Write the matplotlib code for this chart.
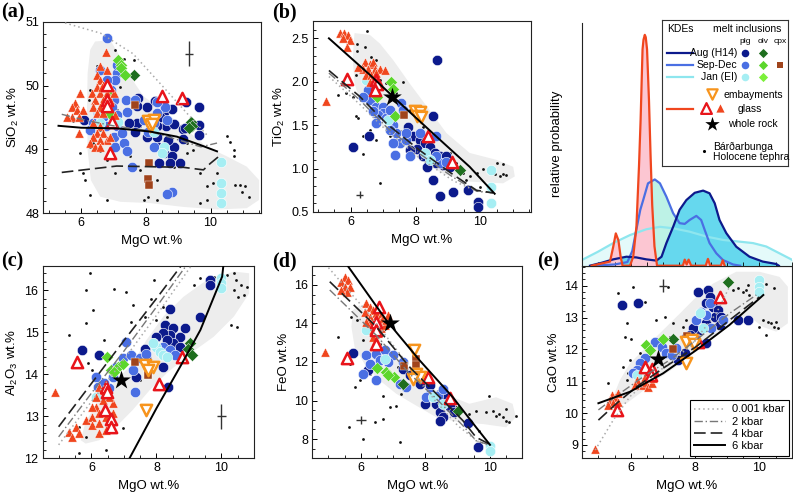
import matplotlib
matplotlib.use('Agg')
import matplotlib.pyplot as plt
from matplotlib.ticker import MultipleLocator, FormatStrFormatter, NullFormatter
from matplotlib.lines import Line2D

plt.rcParams['font.family'] = ['Liberation Sans', 'DejaVu Sans']
plt.rcParams['mathtext.fontset'] = 'custom'
plt.rcParams['mathtext.rm'] = 'Liberation Sans'
plt.rcParams['mathtext.it'] = 'Liberation Sans:italic'
plt.rcParams['mathtext.bf'] = 'Liberation Sans:bold'

# ---------------- DATA ----------------
# Panel (a) SiO2 vs MgO
A_FIELD = [(6.43,50.69),(6.90,50.71),(7.15,50.50),(7.52,50.14),(7.93,49.83),(8.65,49.57),(9.27,49.30),(9.89,49.04),(10.51,48.89),(11.12,48.73),(11.50,48.52),(11.50,48.21),(11.12,48.08),(10.20,48.06),(9.16,48.10),(8.13,48.16),(7.21,48.18),(6.59,48.26),(6.30,48.52),(6.20,48.99),(6.18,49.62),(6.20,50.19),(6.28,50.56)]
A_TEPHRA = [(6.85,50.69),(7.05,50.56),(7.31,50.41),(6.48,50.30),(6.28,49.93),(6.23,49.77),(6.59,49.88),(6.38,49.70),(6.69,49.83),(6.90,49.62),(7.10,49.62),(7.21,49.54),(5.97,48.94),(6.28,49.04),(6.38,49.10),(6.59,48.97),(6.79,48.84),(7.05,48.63),(7.82,48.68),(7.93,48.21),(8.08,48.26),(8.34,48.52),(8.86,48.73),(9.27,49.10),(9.68,48.63),(9.89,48.42),(10.09,48.47),(10.20,48.63),(10.30,48.76),(10.51,49.21),(10.61,49.12),(10.71,48.99),(10.71,48.89),(10.76,48.44),(10.92,48.44),(10.97,48.34),(11.07,48.42),(11.18,48.26),(9.68,48.16),(9.89,48.21),(6.28,48.29),(5.87,49.62),(5.76,49.44),(6.12,48.52),(6.59,49.15),(7.41,49.04),(7.52,48.89),(8.24,49.36),(8.65,49.12),(9.27,48.94),(9.47,48.99),(8.34,48.21),(7.21,49.98),(7.62,50.40),(7.82,49.36),(6.59,49.30),(6.07,48.63),(6.79,48.21)]
A_AUG = [(6.09,49.46),(7.75,49.81),(7.72,49.68),(8.27,49.76),(8.55,49.59),(8.81,49.64),(9.23,49.74),(9.64,49.67),(9.64,49.39),(9.64,49.23),(8.61,49.36),(8.86,49.40),(9.14,49.32),(9.14,49.17),(8.65,49.10),(8.86,49.04),(8.55,48.94),(8.80,48.89),(9.06,48.78),(8.75,48.78),(8.42,48.79),(8.70,49.15),(7.74,49.41),(7.67,49.28),(8.03,49.20),(8.34,49.20),(8.34,49.36),(8.44,49.51),(8.03,49.67),(8.15,49.36),(7.49,49.41),(8.39,49.04),(9.20,49.33)]
A_SEP = [(6.79,50.74),(6.57,50.24),(7.10,50.19),(7.05,50.09),(7.10,50.32),(6.79,50.09),(6.93,49.93),(7.39,49.77),(7.66,49.77),(7.00,49.77),(6.96,49.67),(7.12,49.54),(7.10,49.43),(7.41,49.59),(6.69,49.51),(6.77,49.36),(7.00,49.20),(7.05,49.04),(7.31,49.10),(7.41,48.97),(7.12,49.36),(7.26,49.25),(6.38,49.41),(6.28,49.30),(6.51,49.57),(7.57,48.72),(8.26,49.04),(8.34,49.57),(8.65,49.46),(8.60,49.67),(8.34,49.75),(8.80,48.34),(8.65,48.31),(7.93,49.46),(8.08,49.28),(8.24,49.41)]
A_JAN = [(6.54,49.59),(6.59,49.41),(7.15,49.43),(8.24,49.28),(8.55,49.04),(8.49,48.94),(10.32,48.81),(10.32,48.48),(10.32,48.32),(10.32,48.16)]
A_OLV_AUG = [(7.64,50.17),(9.39,49.43),(9.42,49.36),(9.32,49.33)]
A_OLV_SEP = [(7.13,50.40),(7.23,50.32),(7.23,50.27),(7.36,50.17),(6.85,49.85),(6.85,49.57)]
A_CPX = [(7.67,49.70),(8.10,48.78),(8.07,48.54),(8.10,48.44)]
A_EMB = [(8.06,49.44),(8.24,49.46),(8.13,49.36),(8.19,49.40)]
A_GLASS = [(6.76,50.53),(6.48,50.17),(6.59,50.09),(6.69,50.01),(6.48,49.98),(6.33,49.88),(6.59,49.88),(6.79,49.88),(6.43,49.77),(6.69,49.77),(6.90,49.77),(6.38,49.67),(6.59,49.67),(6.79,49.67),(5.97,49.88),(5.81,49.72),(5.71,49.67),(5.87,49.62),(6.07,49.62),(5.71,49.51),(5.92,49.51),(5.56,49.51),(5.92,49.25),(6.38,49.41),(6.59,49.36),(6.48,49.25),(6.69,49.25),(6.79,49.15),(6.59,49.15),(6.38,49.20),(6.28,49.10),(6.43,49.04),(6.59,49.04),(6.90,49.20),(7.05,49.54),(7.00,49.88),(6.59,50.30),(6.79,50.24),(6.64,49.98),(6.90,49.98),(6.48,49.57),(6.69,49.57)]
A_GLASS_OPEN = [(6.79,50.01),(6.79,49.77),(6.79,49.68),(6.95,49.43),(6.90,48.94),(8.49,49.83),(9.11,49.80)]
A_STAR = []
A_M0 = [(5.5,50.98),(6.6,50.82),(7.6,50.5),(8.5,50.0),(9.3,49.55),(9.9,49.22)]
A_M2 = [(5.4,49.55),(6.2,49.45),(7.0,49.37),(8.0,49.3),(9.0,49.15),(9.7,49.04),(10.2,49.1)]
A_M4 = [(5.4,48.64),(6.07,48.68),(7.1,48.74),(8.13,48.73),(9.16,48.72),(9.78,48.68),(9.99,48.78),(10.35,48.93)]
A_M6 = [(5.3,49.37),(6.0,49.34),(7.1,49.33),(8.13,49.28),(8.96,49.2),(9.68,49.07),(10.2,48.97)]
A_ERR = (9.34, 50.5, 0.12, 0.2)

# Panel (b) TiO2 vs MgO
B_FIELD = [(6.12,2.56),(6.59,2.54),(6.90,2.44),(7.31,2.25),(7.82,1.98),(8.44,1.67),(8.95,1.41),(9.67,1.18),(10.50,1.10),(11.01,1.02),(11.06,0.91),(10.70,0.83),(9.67,0.85),(8.85,0.94),(8.13,1.10),(7.41,1.33),(6.79,1.56),(6.28,1.79),(6.12,1.98),(6.07,2.25),(6.09,2.44)]
B_TEPHRA = [(6.51,2.59),(6.20,2.44),(6.43,2.40),(6.20,2.35),(6.64,2.29),(6.79,2.25),(6.38,2.14),(6.17,2.08),(6.59,2.02),(6.90,2.02),(7.10,1.98),(7.41,1.87),(7.62,2.00),(6.17,1.60),(6.23,1.58),(6.59,1.44),(6.38,1.37),(6.79,1.33),(7.20,1.37),(7.51,1.43),(6.90,0.83),(8.03,1.29),(8.44,1.18),(8.85,1.14),(9.26,1.06),(9.47,0.95),(9.67,0.91),(9.88,0.95),(10.08,1.00),(10.29,1.02),(10.50,1.06),(10.70,1.05),(10.60,0.91),(10.70,0.94),(10.80,0.93),(10.44,0.94),(5.87,1.87),(6.07,1.83),(7.20,1.79),(7.82,1.67),(8.23,1.48),(9.06,1.18),(9.57,0.87),(9.98,0.79),(6.38,1.17),(5.61,1.85)]
B_AUG = [(8.67,2.25),(8.54,1.60),(6.57,1.38),(6.07,1.25),(7.77,1.48),(7.92,1.37),(8.13,1.33),(8.28,1.29),(8.03,1.23),(7.82,1.21),(8.44,1.25),(8.59,1.18),(8.75,1.14),(8.95,1.14),(8.64,1.06),(8.85,1.04),(9.06,1.02),(8.54,0.87),(8.75,0.68),(9.16,0.73),(9.62,0.75),(9.93,0.61),(9.93,0.56),(8.23,1.14),(8.34,1.02)]
B_SEP = [(6.53,1.90),(6.59,1.79),(6.79,1.71),(7.00,1.71),(7.00,1.64),(6.84,1.62),(6.69,1.66),(7.10,1.58),(7.20,1.67),(7.56,1.75),(7.62,1.67),(7.31,1.50),(7.41,1.41),(7.51,1.29),(7.31,1.29),(7.36,1.16),(7.72,1.33),(7.82,1.14),(8.13,1.41),(8.64,1.37),(8.80,1.06),(8.64,1.14),(8.95,1.08),(6.38,1.83),(6.79,1.52),(7.20,1.44),(7.72,1.41)]
B_JAN = [(6.48,2.02),(7.15,1.56),(8.28,1.18),(8.44,1.10),(10.32,0.98),(10.32,0.79),(10.32,0.60)]
B_OLV_AUG = [(9.36,0.98)]
B_OLV_SEP = [(7.23,2.00),(7.31,1.92),(6.81,1.83),(7.36,1.60)]
B_CPX = [(7.65,1.62)]
B_EMB = [(7.98,1.66),(8.13,1.65),(8.06,1.60),(8.18,1.59)]
B_GLASS = [(5.66,2.56),(5.81,2.56),(5.92,2.54),(5.76,2.50),(5.97,2.48),(5.89,2.40),(6.43,2.23),(6.59,2.21),(6.69,2.23),(6.54,2.15),(6.74,2.15),(6.90,2.15),(6.38,2.15),(6.48,2.08),(6.64,2.08),(6.79,2.10),(6.59,2.00),(7.05,2.14),(6.23,2.17),(5.23,1.78)]
B_GLASS_OPEN = [(5.89,2.03),(6.77,2.02),(6.81,1.97),(6.74,1.91),(8.39,1.37),(9.11,1.08)]
B_STAR = [(7.26,1.82)]
B_M0 = [(5.33,2.06),(6.28,1.74),(7.10,1.44),(8.13,1.12),(9.16,0.86),(9.88,0.74),(10.39,0.72)]
B_M2 = [(5.33,2.10),(6.28,1.79),(7.10,1.48),(8.13,1.17),(9.16,0.90),(9.88,0.74),(10.39,0.72)]
B_M4 = [(5.33,2.13),(6.28,1.83),(7.10,1.52),(8.13,1.21),(9.16,0.93),(9.88,0.75),(10.39,0.72)]
B_M6 = [(5.33,2.50),(6.59,2.08),(7.62,1.72),(8.64,1.37),(9.67,1.02),(10.44,0.71)]
B_ERR = (6.28, 0.70, 0.1, 0.04)

# Panel (c) Al2O3 vs MgO
C_FIELD = [(5.67,12.43),(5.82,12.87),(6.24,13.39),(6.76,13.86),(7.27,14.26),(7.69,14.81),(8.21,15.37),(8.83,15.84),(9.55,16.24),(10.38,16.44),(10.85,16.40),(10.85,15.92),(10.38,15.37),(9.76,14.89),(9.04,14.49),(8.31,14.02),(7.79,13.62),(7.27,13.15),(6.76,12.75),(6.24,12.43),(5.82,12.35)]
C_TEPHRA = [(5.95,16.40),(5.84,16.00),(6.05,15.52),(5.31,14.93),(6.70,16.02),(7.07,15.96),(7.92,16.23),(7.84,15.80),(7.27,15.64),(7.64,15.37),(7.22,15.25),(6.39,14.81),(5.88,14.26),(6.03,14.10),(6.13,13.94),(6.76,13.90),(7.27,13.58),(6.96,12.71),(6.45,12.20),(5.62,12.75),(6.24,12.63),(5.82,12.51),(9.35,16.28),(9.55,16.16),(9.76,16.32),(10.18,16.36),(10.38,16.40),(10.44,16.24),(10.59,16.12),(10.38,16.00),(10.80,16.08),(10.69,15.88),(10.51,15.84),(10.28,15.17),(10.49,15.13),(9.14,16.12),(8.21,15.60),(8.31,15.37),(8.52,14.97),(8.78,14.65),(8.00,15.29),(6.55,14.42),(7.48,13.86),(5.82,15.21),(5.62,12.12)]
C_AUG = [(5.72,14.57),(6.24,14.45),(9.64,16.24),(9.64,16.12),(9.33,15.37),(8.41,15.56),(8.26,15.17),(8.52,15.09),(8.41,14.93),(8.73,14.89),(8.88,15.09),(8.21,14.97),(8.00,14.89),(7.90,14.73),(8.52,14.73),(8.31,14.81),(8.73,14.65),(7.66,14.61),(7.69,14.38),(8.21,14.18),(7.38,13.94),(8.36,13.69)]
C_SEP = [(6.13,13.94),(6.19,13.70),(6.65,13.94),(6.76,14.18),(6.96,14.38),(7.22,14.45),(7.27,14.10),(7.33,13.58),(7.05,14.77),(7.48,14.38),(7.69,14.49),(8.00,14.65),(8.21,14.65),(8.41,14.57),(8.57,14.45),(6.55,13.66),(6.36,13.46),(6.40,13.80)]
C_JAN = [(10.0,16.28),(9.97,16.16),(9.97,16.04),(8.00,14.65),(8.10,14.53),(8.21,14.45),(8.31,14.42),(7.90,14.73),(6.13,13.46)]
C_OLV_AUG = [(9.04,14.73),(8.98,14.61),(9.09,14.45)]
C_OLV_SEP = [(6.47,14.40),(6.60,14.10),(6.81,14.18),(6.96,14.24),(6.70,14.05)]
C_CPX = [(7.33,14.30),(7.74,14.06),(7.74,13.98)]
C_EMB = [(7.64,14.22),(7.88,14.18),(7.74,14.10),(7.69,13.15)]
C_GLASS = [(4.89,13.58),(5.31,12.63),(5.51,12.75),(5.62,12.59),(5.41,12.51),(5.82,12.91),(6.03,12.99),(6.13,13.23),(6.24,13.07),(6.03,12.79),(6.24,12.83),(6.45,12.99),(6.65,13.07),(6.65,13.31),(6.55,13.46),(6.34,13.39),(6.13,13.46),(6.45,13.19),(6.03,13.23),(6.24,13.70),(6.39,13.62),(6.24,12.59),(6.45,12.67)]
C_GLASS_OPEN = [(5.56,14.30),(6.45,13.70),(6.47,13.58),(6.42,13.15),(6.60,12.93),(6.60,12.75),(8.78,14.42),(8.08,13.77)]
C_STAR = [(6.91,13.86)]
C_M0 = [(4.99,12.32),(6.0,13.35),(7.0,14.35),(8.0,15.4),(9.09,16.6)]
C_M2 = [(4.99,12.51),(6.0,13.55),(7.0,14.55),(8.0,15.6),(8.93,16.6)]
C_M4 = [(4.99,12.75),(6.0,13.78),(7.0,14.8),(8.0,15.8),(8.78,16.6)]
C_M6 = [(7.17,12.0),(8.0,13.19),(8.73,14.18),(9.35,15.05),(10.02,16.32),(10.06,16.6)]
C_ERR = (10.0, 13.0, 0.14, 0.3)

# Panel (d) FeO vs MgO
D_FIELD = [(5.76,14.70),(5.97,14.96),(6.28,14.17),(6.79,12.78),(7.51,11.39),(8.34,10.52),(9.36,9.83),(10.19,10.17),(10.70,9.83),(10.80,9.13),(10.50,8.61),(9.78,8.78),(9.06,8.87),(8.34,9.13),(7.62,9.83),(7.10,10.35),(6.59,11.04),(6.17,11.74),(5.81,12.78),(5.71,13.83)]
D_TEPHRA = [(5.71,14.35),(5.87,14.17),(6.17,14.52),(5.30,13.30),(5.66,11.91),(5.81,10.70),(5.63,8.61),(6.07,8.00),(6.43,8.87),(6.69,9.04),(7.10,9.74),(7.26,10.35),(6.69,10.26),(6.59,12.96),(7.20,7.83),(7.15,11.74),(7.72,11.04),(8.54,10.17),(8.95,9.65),(9.36,9.30),(9.57,9.48),(9.88,9.39),(9.96,10.21),(10.08,9.48),(10.19,9.22),(10.39,9.13),(10.50,8.96),(10.60,8.87),(10.29,9.30),(10.50,9.57),(10.80,9.22),(9.36,8.96),(9.67,8.43),(6.07,13.13),(6.38,12.43),(6.59,11.74),(6.79,12.35),(6.28,11.39),(5.97,11.04),(6.90,9.65)]
D_AUG = [(5.76,12.47),(6.23,11.57),(7.31,11.65),(7.51,11.30),(7.82,10.87),(8.13,10.78),(8.44,10.35),(8.64,10.17),(8.75,10.00),(8.34,9.83),(7.98,9.83),(8.44,9.39),(8.75,9.65),(8.90,9.39),(8.54,9.13),(8.44,8.96),(9.31,8.82),(9.62,7.60)]
D_SEP = [(6.17,12.35),(6.48,12.43),(6.74,12.61),(7.00,12.35),(6.59,12.09),(6.84,12.00),(6.28,11.91),(6.48,11.04),(6.07,11.39),(7.20,10.87),(7.41,10.70),(8.13,10.35),(8.39,10.26),(8.54,10.61),(8.03,10.17),(7.31,12.00)]
D_JAN = [(6.17,13.65),(6.74,12.17),(8.23,10.17),(8.54,9.83),(10.0,7.65),(10.0,7.39)]
D_OLV_AUG = [(7.31,10.87),(9.00,9.44)]
D_OLV_SEP = [(6.50,11.70),(6.79,11.48),(7.02,11.22),(6.85,11.35)]
D_CPX = [(7.72,12.17),(7.72,11.83),(7.72,11.48),(7.34,11.79)]
D_EMB = [(7.64,12.61),(7.72,11.39),(7.84,11.22),(7.63,11.10)]
D_GLASS = [(5.51,16.43),(5.61,16.26),(5.40,16.17),(5.51,15.91),(5.66,15.91),(5.56,15.65),(5.40,15.74),(6.17,15.04),(6.28,14.87),(6.38,14.70),(6.12,14.61),(6.48,14.52),(6.64,14.43),(6.28,14.35),(6.43,14.17),(6.59,14.09),(6.69,14.26),(6.28,14.00),(6.48,13.83),(6.64,13.74),(6.38,13.65),(6.53,13.48),(6.48,13.13),(6.38,13.30),(6.74,13.91),(6.79,14.17),(6.84,14.43),(6.17,14.09),(4.89,12.52)]
D_GLASS_OPEN = [(6.57,14.87),(6.48,14.09),(6.48,13.65),(6.46,12.96),(5.58,12.23),(8.08,11.22),(8.77,10.14)]
D_STAR = [(6.92,14.00)]
D_M0 = [(5.0,16.9),(6.3,14.4),(7.4,12.0),(8.3,10.0),(9.0,8.7),(9.6,7.9),(9.9,7.7)]
D_M2 = [(5.04,15.74),(6.48,13.39),(7.51,11.39),(8.34,10.09),(9.16,8.70),(9.57,7.91),(9.98,7.70)]
D_M4 = [(5.04,16.17),(6.48,13.83),(7.51,11.74),(8.34,10.35),(9.16,8.96),(9.57,8.09),(9.98,7.74)]
D_M6 = [(5.61,16.96),(6.79,14.17),(7.82,12.09),(8.85,10.17),(9.57,8.61),(10.0,7.70)]
D_ERR = (6.0, 9.0, 0.15, 0.2)

# Panel (e) CaO vs MgO
E_FIELD = [(5.46,10.52),(5.67,11.04),(5.98,11.56),(6.49,12.09),(7.01,12.61),(7.53,13.13),(8.04,13.65),(8.56,14.07),(9.28,14.44),(10.0,14.44),(10.62,14.28),(10.88,13.97),(10.88,12.82),(10.52,12.56),(10.10,12.71),(9.69,13.03),(9.28,13.03),(8.66,12.50),(8.04,11.98),(7.42,11.46),(6.80,11.04),(6.29,10.62),(5.88,10.31),(5.57,10.25)]
E_TEPHRA = [(5.62,13.76),(6.08,13.97),(5.88,12.82),(5.82,12.40),(6.00,12.32),(6.44,13.50),(6.80,12.92),(7.06,13.03),(7.16,13.97),(7.32,12.82),(7.63,12.71),(7.73,12.92),(7.84,12.56),(5.98,11.67),(5.77,11.46),(5.93,11.25),(5.88,11.04),(5.31,10.96),(6.49,12.09),(7.01,11.77),(7.22,12.40),(7.42,12.30),(9.18,13.86),(9.33,13.92),(9.48,13.81),(9.59,13.86),(9.69,13.71),(9.90,13.86),(9.64,14.02),(9.07,14.07),(10.21,14.07),(10.46,13.92),(10.10,12.92),(10.26,12.87),(10.36,12.82),(10.52,12.87),(10.57,12.66),(10.46,12.71),(10.19,12.45),(10.0,12.71),(6.29,11.88)]
E_AUG = [(5.72,13.40),(6.24,13.45),(8.09,13.81),(8.40,13.86),(8.45,13.65),(8.35,13.45),(8.56,13.34),(8.71,13.24),(8.61,13.03),(8.76,12.77),(8.35,12.82),(8.14,12.61),(7.94,12.66),(7.84,12.45),(8.35,12.19),(7.47,11.67),(7.68,11.88),(9.33,12.94),(9.64,12.94),(8.81,13.03)]
E_SEP = [(6.75,12.24),(6.96,12.09),(7.11,11.88),(7.27,11.82),(7.42,12.03),(7.73,12.40),(8.04,12.92),(8.20,13.18),(8.45,13.45),(8.87,12.92),(6.44,11.72),(6.29,11.56),(6.19,11.35),(6.08,11.25),(8.35,13.08),(8.51,12.66)]
E_JAN = [(6.19,11.20),(8.14,13.13),(8.25,12.66),(10.0,14.18),(10.0,13.97),(10.0,13.81)]
E_OLV_AUG = [(7.30,12.33),(9.02,14.12)]
E_OLV_SEP = [(6.49,12.14),(6.60,11.98),(7.01,12.33)]
E_CPX = [(7.30,12.00),(7.75,12.43)]
E_EMB = [(7.73,12.24),(7.89,12.30),(7.96,12.17),(7.73,11.56)]
E_GLASS = [(5.41,10.57),(5.36,10.41),(5.52,10.52),(5.62,10.62),(5.46,10.31),(5.62,10.36),(5.31,10.26),(4.90,8.87),(6.39,10.88),(6.49,10.99),(6.55,10.83),(6.65,10.94),(6.70,11.09),(6.44,11.14),(6.60,11.25),(6.19,11.04),(6.13,10.88)]
E_GLASS_OPEN = [(5.57,10.10),(6.46,11.46),(6.65,11.37),(6.62,11.20),(8.09,12.24),(8.76,13.65)]
E_STAR = [(6.86,11.69)]
E_M0 = [(4.90,8.84),(5.46,9.78),(5.98,10.52),(6.80,11.25),(7.84,12.09),(8.66,13.13),(9.07,13.97)]
E_M2 = [(5.0,10.10),(5.67,10.62),(6.39,11.14),(7.22,11.67),(8.04,12.30),(9.07,13.13),(9.90,13.71)]
E_M4 = [(5.0,9.78),(5.57,10.31),(6.19,10.83),(7.01,11.41),(8.04,12.09),(9.07,12.92),(10.0,13.65)]
E_M6 = [(5.0,10.31),(5.98,10.67),(7.01,11.25),(8.04,11.98),(9.07,12.77),(10.0,13.60),(10.12,13.71)]
E_ERR = (7.0, 14.0, 0.13, 0.2)

# KDE curves (MgO, relative probability)
KDE_GLASS = [(4.79,0.0),(5.36,0.017),(5.46,0.078),(5.54,0.133),(5.62,0.105),(5.69,0.037),(5.75,0.0),(5.98,0.0),(6.08,0.037),(6.18,0.16),(6.26,0.41),(6.31,0.6),(6.37,0.89),(6.40,0.93),(6.44,0.95),(6.47,0.94),(6.51,0.89),(6.57,0.68),(6.62,0.45),(6.67,0.25),(6.74,0.08),(6.82,0.0),(7.62,0.0),(7.68,0.025),(7.74,0.005),(7.80,0.025),(7.88,0.0),(8.33,0.0),(8.40,0.028),(8.47,0.0),(8.80,0.0),(8.86,0.022),(8.92,0.0)]
KDE_SEP = [(4.79,0.0),(5.5,0.005),(5.9,0.015),(6.05,0.06),(6.18,0.15),(6.3,0.23),(6.39,0.27),(6.54,0.339),(6.75,0.355),(6.91,0.339),(7.11,0.284),(7.32,0.216),(7.52,0.175),(7.68,0.172),(7.83,0.188),(8.04,0.205),(8.19,0.188),(8.30,0.147),(8.45,0.093),(8.66,0.051),(8.87,0.023),(9.18,0.005),(9.4,0.0)]
KDE_AUG = [(4.74,0.0),(5.1,0.012),(5.46,0.026),(5.87,0.037),(6.18,0.034),(6.49,0.026),(6.80,0.021),(6.96,0.037),(7.11,0.093),(7.32,0.16),(7.52,0.23),(7.73,0.27),(7.99,0.30),(8.25,0.309),(8.45,0.298),(8.61,0.257),(8.76,0.188),(8.97,0.134),(9.28,0.078),(9.69,0.037),(10.10,0.017),(10.52,0.007),(10.6,0.0)]
KDE_JAN = [(4.48,0.023),(4.98,0.057),(5.46,0.093),(5.98,0.126),(6.49,0.15),(6.91,0.16),(7.32,0.154),(7.83,0.14),(8.35,0.12),(8.87,0.106),(9.38,0.099),(9.80,0.093),(10.21,0.079),(10.62,0.051),(11.03,0.023)]

MODEL_LABELS = ['0.001 kbar', '2 kbar', '4 kbar', '6 kbar']

# ---------------- STYLE ----------------
COL_AUG = '#0c1a8c'
COL_SEP = '#4a6fe3'
COL_JAN = '#a6eef3'
COL_OLV_AUG = '#1e6e1e'
COL_OLV_SEP = '#5cd62c'
COL_OLV_JAN = '#7cf03a'
COL_CPX = '#a0441c'
COL_EMB = '#f7941d'
COL_GLASS = '#f0461e'
COL_GLASS_OPEN = '#e8141a'
COL_FIELD = '#ededed'
MODEL_STYLES = [dict(color='#aaaaaa', ls=(0, (1, 2)), lw=1.1),
                dict(color='#777777', ls=(0, (6, 2, 1, 2)), lw=1.0),
                dict(color='#222222', ls=(0, (7, 3)), lw=1.2),
                dict(color='black', ls='-', lw=1.4)]

W, H = 793, 492
fig = plt.figure(figsize=(W / 100, H / 100), dpi=100)


def rect(l, t, r, b):
    return [l / W, 1 - b / H, (r - l) / W, (b - t) / H]


def xy(pts):
    return [p[0] for p in pts], [p[1] for p in pts]


def draw(ax, field, tephra, aug, sep, jan, olv_aug, olv_sep, cpx, glass, glass_open, emb, star, models, err):
    fx, fy = xy(field)
    ax.fill(fx, fy, color=COL_FIELD, lw=0, zorder=0)
    x, y = xy(tephra)
    ax.scatter(x, y, s=4, color='#111111', lw=0, zorder=1)
    for pts, col in [(aug, COL_AUG), (sep, COL_SEP), (jan, COL_JAN)]:
        if pts:
            x, y = xy(pts)
            ax.scatter(x, y, s=56, color=col, edgecolors='white', linewidths=0.4, zorder=2)
    for pts, col in [(olv_aug, COL_OLV_AUG), (olv_sep, COL_OLV_SEP)]:
        if pts:
            x, y = xy(pts)
            ax.scatter(x, y, marker='D', s=38, color=col, edgecolors='white', linewidths=0.3, zorder=3)
    if cpx:
        x, y = xy(cpx)
        ax.scatter(x, y, marker='s', s=30, color=COL_CPX, edgecolors='white', linewidths=0.3, zorder=3)
    x, y = xy(glass)
    ax.scatter(x, y, marker='^', s=44, color=COL_GLASS, edgecolors='white', linewidths=0.3, zorder=4)
    x, y = xy(glass_open)
    ax.scatter(x, y, marker='^', s=66, facecolors='white', edgecolors=COL_GLASS_OPEN, linewidths=1.8, zorder=5)
    x, y = xy(emb)
    ax.scatter(x, y, marker='v', s=66, facecolors='white', edgecolors=COL_EMB, linewidths=1.8, zorder=5)
    for pts, st in zip(models, MODEL_STYLES):
        x, y = xy(pts)
        ax.plot(x, y, zorder=6, **st)
    if star:
        x, y = xy(star)
        ax.scatter(x, y, marker='*', s=200, color='black', lw=0, zorder=7)
    ex, ey, exe, eye = err
    ax.errorbar([ex], [ey], xerr=[exe], yerr=[eye], fmt='none', ecolor='#333333', elinewidth=1.0, capsize=0, zorder=7)


def style(ax, xlim, ylim, ymaj, ymin, yfmt, ylabel):
    ax.set_xlim(*xlim)
    ax.set_ylim(*ylim)
    ax.set_xticks([6, 8, 10])
    ax.xaxis.set_minor_locator(MultipleLocator(0.5))
    ax.yaxis.set_major_locator(MultipleLocator(ymaj))
    ax.yaxis.set_minor_locator(MultipleLocator(ymin))
    ax.yaxis.set_major_formatter(FormatStrFormatter(yfmt))
    ax.tick_params(which='both', direction='in', labelsize=9, pad=3)
    ax.tick_params(which='major', length=3.5, width=0.7)
    ax.tick_params(which='minor', length=2, width=0.6)
    for s in ax.spines.values():
        s.set_linewidth(0.8)
        s.set_color('#222222')
    ax.set_xlabel('MgO wt.%', fontsize=9.5, labelpad=4)
    ax.set_ylabel(ylabel, fontsize=9.5, labelpad=3)


axA = fig.add_axes(rect(43.3, 21.7, 260.7, 213.3))
draw(axA, A_FIELD, A_TEPHRA, A_AUG, A_SEP, A_JAN, A_OLV_AUG, A_OLV_SEP, A_CPX, A_GLASS, A_GLASS_OPEN, A_EMB, A_STAR, [A_M0, A_M2, A_M4, A_M6], A_ERR)
style(axA, (4.83, 11.55), (48, 51), 1, 0.2, '%d', r'SiO$_2$ wt.%')

axB = fig.add_axes(rect(312.7, 20.7, 530.7, 212))
draw(axB, B_FIELD, B_TEPHRA, B_AUG, B_SEP, B_JAN, B_OLV_AUG, B_OLV_SEP, B_CPX, B_GLASS, B_GLASS_OPEN, B_EMB, B_STAR, [B_M0, B_M2, B_M4, B_M6], B_ERR)
style(axB, (4.83, 11.55), (0.5, 2.703), 0.5, 0.1, '%.1f', r'TiO$_2$ wt.%')

axC = fig.add_axes(rect(42.7, 265.7, 254, 458.3))
draw(axC, C_FIELD, C_TEPHRA, C_AUG, C_SEP, C_JAN, C_OLV_AUG, C_OLV_SEP, C_CPX, C_GLASS, C_GLASS_OPEN, C_EMB, C_STAR, [C_M0, C_M2, C_M4, C_M6], C_ERR)
style(axC, (4.5, 11), (12, 16.58), 1, 0.2, '%d', r'Al$_2$O$_3$ wt.%')

axD = fig.add_axes(rect(312.3, 265.7, 522.3, 458.3))
draw(axD, D_FIELD, D_TEPHRA, D_AUG, D_SEP, D_JAN, D_OLV_AUG, D_OLV_SEP, D_CPX, D_GLASS, D_GLASS_OPEN, D_EMB, D_STAR, [D_M0, D_M2, D_M4, D_M6], D_ERR)
style(axD, (4.5, 11), (7, 17), 2, 0.5, '%d', 'FeO wt.%')

axE = fig.add_axes(rect(582.3, 265.7, 791.7, 458.3))
draw(axE, E_FIELD, E_TEPHRA, E_AUG, E_SEP, E_JAN, E_OLV_AUG, E_OLV_SEP, E_CPX, E_GLASS, E_GLASS_OPEN, E_EMB, E_STAR, [E_M0, E_M2, E_M4, E_M6], E_ERR)
style(axE, (4.5, 11), (8.58, 14.63), 1, 0.2, '%d', 'CaO wt.%')
handles = [Line2D([], [], **st) for st in MODEL_STYLES]
leg = axE.legend(handles, MODEL_LABELS, loc='lower right', fontsize=8, frameon=True, fancybox=False,
                 edgecolor='black', framealpha=1, handlelength=2.8, labelspacing=0.2, borderpad=0.4,
                 handletextpad=0.6, borderaxespad=0.25)
leg.get_frame().set_linewidth(0.8)
leg.set_zorder(10)

# KDE panel
axK = fig.add_axes(rect(582.3, 22.7, 791.7, 265.7))
axK.set_xlim(4.5, 11)
axK.set_ylim(0, 1.0)
for pts, fc in [(KDE_JAN, '#e4fafa'), (KDE_SEP, '#bdf2e6'), (KDE_AUG, '#66d8ee'), (KDE_GLASS, '#fcc6d2')]:
    x, y = xy(pts)
    axK.fill_between(x, 0, y, color=fc, lw=0)
for pts, lc in [(KDE_JAN, '#8ee6ee'), (KDE_SEP, COL_SEP), (KDE_AUG, COL_AUG), (KDE_GLASS, COL_GLASS)]:
    x, y = xy(pts)
    axK.plot(x, y, color=lc, lw=1.6, solid_joinstyle='round')
axK.spines['top'].set_visible(False)
axK.spines['right'].set_visible(False)
for s in ['left', 'bottom']:
    axK.spines[s].set_linewidth(0.8)
    axK.spines[s].set_color('#222222')
axK.set_yticks([])
axK.xaxis.set_major_locator(MultipleLocator(1))
axK.xaxis.set_minor_locator(MultipleLocator(0.5))
axK.xaxis.set_major_formatter(NullFormatter())
axK.tick_params(which='both', direction='in', length=3, width=0.6)
axK.set_ylabel('relative probability', fontsize=9.5)
axK.yaxis.set_label_coords(-0.09, 0.5)

# custom legend box (pixel layout)
lg = fig.add_axes(rect(661.7, 20, 788, 165.7))
lg.set_xlim(0, 126.3)
lg.set_ylim(145.7, 0)
lg.set_xticks([])
lg.set_yticks([])
for s in lg.spines.values():
    s.set_linewidth(0.8)
    s.set_color('#333333')
fs = 7.5
lg.text(5.6, 9.3, 'KDEs', fontsize=fs, va='center', ha='left')
lg.text(85, 9.3, 'melt inclusions', fontsize=fs, va='center', ha='center')
for lx, t in [(83.3, 'plg'), (101, 'olv'), (118.3, 'cpx')]:
    lg.text(lx, 21.7, t, fontsize=6, va='center', ha='center')
rows = [(32.7, 'Aug (H14)', COL_AUG, COL_AUG, COL_OLV_AUG, False),
        (45.0, 'Sep-Dec', COL_SEP, COL_SEP, COL_OLV_SEP, True),
        (57.3, 'Jan (EI)', '#8ee6ee', COL_JAN, COL_OLV_JAN, False)]
for ly, lab, lc, cc, dc, sq in rows:
    lg.plot([5.6, 31], [ly, ly], color=lc, lw=1.6)
    lg.text(75.6, ly, lab, fontsize=fs, va='center', ha='right')
    lg.scatter([83.3], [ly], s=30, color=cc, lw=0)
    lg.scatter([101], [ly], marker='D', s=22, color=dc, lw=0)
    if sq:
        lg.scatter([117.8], [ly], marker='s', s=20, color=COL_CPX, lw=0)
lg.scatter([50.6], [74], marker='v', s=55, facecolors='white', edgecolors=COL_EMB, linewidths=1.6)
lg.text(61.6, 75, 'embayments', fontsize=fs, va='center', ha='left')
lg.plot([5.6, 31], [89, 89], color=COL_GLASS, lw=1.6)
lg.scatter([44.3], [88], marker='^', s=60, facecolors='white', edgecolors=COL_GLASS_OPEN, linewidths=1.6)
lg.scatter([58.3], [88], marker='^', s=35, color=COL_GLASS, lw=0)
lg.text(75.6, 89, 'glass', fontsize=fs, va='center', ha='left')
lg.scatter([50.6], [104.3], marker='*', s=120, color='black', lw=0)
lg.text(66.6, 104.3, 'whole rock', fontsize=fs, va='center', ha='left')
lg.scatter([42.6], [131], s=5, color='black', lw=0)
lg.text(51, 126.7, 'Bárðarbunga', fontsize=fs, va='center', ha='left')
lg.text(51, 136.5, 'Holocene tephra', fontsize=fs, va='center', ha='left')

# panel letters
for px, py, t in [(1, 12, '(a)'), (272, 12, '(b)'), (1, 261, '(c)'), (272, 261, '(d)'), (537, 261, '(e)')]:
    fig.text(px / W, 1 - py / H, t, fontfamily='Liberation Serif', fontweight='bold', fontsize=14.5,
             ha='left', va='center')

fig.savefig('out.png', dpi=100)
